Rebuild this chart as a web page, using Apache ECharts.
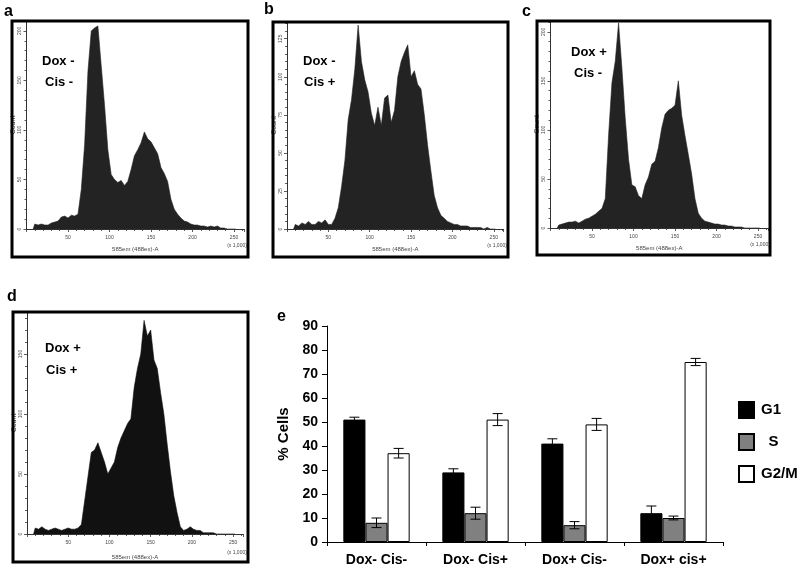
<!DOCTYPE html>
<html>
<head>
<meta charset="utf-8">
<script src="https://cdn.jsdelivr.net/npm/echarts@6/dist/echarts.min.js"></script>
<style>html,body{margin:0;padding:0;background:#fff;}#chart{width:800px;height:570px;}</style>
</head>
<body>
<div id="chart"></div>
<script>
// ---------- DATA ----------
// Histogram bins (x in thousands): centers start at 10, step 4 (61 bins)
const binStart = 10;
const binWidth = 4;
const histA = [5,4,5,4,4,6,7,8,12,13,11,14,13,
  15,40,85,159,200,203,205,165,125,80,55,50,47,
  49,44,48,60,74,80,87,98,91,88,82,76,62,
  56,48,30,20,15,11,8,7,5,4,4,3,3,
  2,3,2,3,1,1,0,0,0];
const histB = [3,2,4,3,5,3,3,5,4,6,3,3,7,
  14,28,45,72,85,105,134,110,98,90,76,68,80,
  68,86,88,70,78,100,110,116,121,100,104,95,92,
  75,55,38,22,14,9,7,5,4,3,3,2,2,
  2,1,1,1,1,0,1,0,0];
const histC = [3,4,5,6,6,7,5,7,9,10,12,14,17,
  20,30,95,148,170,209,163,112,70,44,42,33,30,
  44,52,65,68,82,102,116,120,122,125,150,115,94,
  75,55,30,15,10,7,6,5,4,4,3,3,2,
  2,1,1,1,0,0,0,0,0];
const histD = [5,4,6,4,3,4,5,4,3,4,5,4,4,
  5,8,28,48,68,70,76,68,60,50,55,60,72,
  80,86,92,96,122,138,150,178,165,170,145,138,118,
  100,75,52,32,18,6,3,4,6,4,3,3,1,
  1,1,1,0,0,0,0,0,0];
const histXTicks = [50,100,150,200,250];

const categories = ['Dox- Cis-','Dox- Cis+','Dox+ Cis-','Dox+ cis+'];
const seriesNames = ['G1','S','G2/M'];
const valG1 = [51,29,41,12];
const valS = [8,12,7,10];
const valG2M = [37,51,49,75];
const errG1 = [1,1.5,2,3];
const errS = [2,2.5,1.5,0.8];
const errG2M = [2,2.5,2.5,1.5];

// ---------- LAYOUT ----------
const FONT = 'Liberation Sans, Arial, Helvetica, sans-serif';
const panels = [
  {letter:'a', lx:4, ly:13, frame:[12,21,236,236], grid:{left:26.5,top:21,width:217.5,height:208}, ymax:210, yint:50, data:histA, t1:'Dox -', t2:'Cis -', tx:42, ty1:61, ty2:82, tx2:45, color:'#232323', nameGap:17, kx:237, ky:246},
  {letter:'b', lx:264, ly:11, frame:[273,22,235,235], grid:{left:287,top:22,width:216.7,height:207}, ymax:136, yint:25, data:histB, t1:'Dox -', t2:'Cis +', tx:303, ty1:61, ty2:82, tx2:304, color:'#232323', nameGap:17, kx:497, ky:246},
  {letter:'c', lx:522, ly:13, frame:[537,21,233,234], grid:{left:550.5,top:21,width:217.5,height:207}, ymax:211, yint:50, data:histC, t1:'Dox +', t2:'Cis -', tx:571, ty1:52, ty2:73, tx2:574, color:'#232323', nameGap:17, kx:760, ky:245},
  {letter:'d', lx:7, ly:298, frame:[13,312,235,250], grid:{left:27,top:312,width:216,height:222}, ymax:185, yint:50, data:histD, t1:'Dox +', t2:'Cis +', tx:45, ty1:348, ty2:370, tx2:46, color:'#111111', nameGap:20, kx:237, ky:553}
];

const grids = [], xAxes = [], yAxes = [], series = [], graphics = [];

panels.forEach((p, gi) => {
  grids.push(Object.assign({containLabel:false}, p.grid));
  xAxes.push({
    gridIndex: gi, type:'value', min:0, max:262, interval:50,
    axisLine:{show:true, lineStyle:{color:'#333', width:1}},
    axisTick:{show:true, length:3, lineStyle:{color:'#333', width:0.8}},
    minorTick:{show:true, splitNumber:5, length:2, lineStyle:{color:'#333', width:0.8}},
    splitLine:{show:false},
    axisLabel:{fontSize:5, color:'#444', margin:6, fontFamily:FONT,
      formatter: v => histXTicks.indexOf(v) >= 0 ? String(v) : ''},
    name:'585em (488ex)-A', nameLocation:'middle', nameGap:p.nameGap,
    nameTextStyle:{fontSize:6, color:'#444', fontFamily:FONT}
  });
  yAxes.push({
    gridIndex: gi, type:'value', min:0, max:p.ymax, interval:p.yint,
    axisLine:{show:true, lineStyle:{color:'#333', width:1}},
    axisTick:{show:true, length:3, lineStyle:{color:'#333', width:0.8}},
    minorTick:{show:true, splitNumber:5, length:2, lineStyle:{color:'#333', width:0.8}},
    splitLine:{show:false},
    axisLabel:{fontSize:5, color:'#444', rotate:90, margin:4, fontFamily:FONT,
      formatter: v => (v % p.yint === 0) ? String(v) : ''},
    name:'Count', nameLocation:'middle', nameGap:9, nameRotate:90,
    nameTextStyle:{fontSize:7, color:'#444', fontFamily:FONT}
  });
  const pts = [[binStart - binWidth/2, 0]];
  p.data.forEach((c, i) => pts.push([binStart + i*binWidth, c]));
  pts.push([binStart + (p.data.length-1)*binWidth + binWidth/2, 0]);
  series.push({
    type:'line', xAxisIndex:gi, yAxisIndex:gi, data:pts, symbol:'none', silent:true,
    lineStyle:{color:p.color, width:0.6}, areaStyle:{color:p.color, opacity:1}, animation:false
  });
  graphics.push({type:'rect', shape:{x:p.frame[0], y:p.frame[1], width:p.frame[2], height:p.frame[3]},
    style:{fill:null, stroke:'#000', lineWidth:3}, z:100});
  graphics.push({type:'text', left:p.lx, top:p.ly-9, style:{text:p.letter, font:'bold 16px '+FONT, fill:'#000'}});
  graphics.push({type:'text', x:p.tx, y:p.ty1, style:{text:p.t1, font:'bold 13px '+FONT, fill:'#000', textVerticalAlign:'middle'}, z:50});
  graphics.push({type:'text', x:p.tx2, y:p.ty2, style:{text:p.t2, font:'bold 13px '+FONT, fill:'#000', textVerticalAlign:'middle'}, z:50});
  graphics.push({type:'text', x:p.kx, y:p.ky, style:{text:'(x 1,000)', font:'5px '+FONT, fill:'#444', textAlign:'center', textVerticalAlign:'middle'}});
});

// panel e letter
graphics.push({type:'text', left:277, top:309, style:{text:'e', font:'bold 16px '+FONT, fill:'#000'}});

// ---------- BAR CHART ----------
const gE = panels.length;
grids.push({left:327, top:326, width:396, height:216, containLabel:false});
xAxes.push({
  gridIndex:gE, type:'category', data:categories,
  axisLine:{show:true, lineStyle:{color:'#000', width:1}},
  axisTick:{show:true, alignWithLabel:false, length:4, lineStyle:{color:'#000'}},
  axisLabel:{fontSize:14, fontWeight:'bold', color:'#000', margin:11, fontFamily:FONT},
  splitLine:{show:false}
});
yAxes.push({
  gridIndex:gE, type:'value', min:0, max:90, interval:10,
  axisLine:{show:true, lineStyle:{color:'#000', width:1}},
  axisTick:{show:true, length:5, lineStyle:{color:'#000'}},
  axisLabel:{fontSize:14, fontWeight:'bold', color:'#000', margin:9, fontFamily:FONT},
  splitLine:{show:false},
  name:'% Cells', nameLocation:'middle', nameGap:36, nameRotate:90,
  nameTextStyle:{fontSize:15, fontWeight:'bold', color:'#000', fontFamily:FONT}
});

const barVals = [valG1, valS, valG2M];
const barErrs = [errG1, errS, errG2M];
const barColors = ['#000000', '#808080', '#ffffff'];
barVals.forEach((vals, s) => {
  series.push({
    name:seriesNames[s], type:'bar', xAxisIndex:gE, yAxisIndex:gE, data:vals,
    barGap:'0%', barCategoryGap:'33%',
    itemStyle:{color:barColors[s], borderColor:'#000', borderWidth:1}, animation:false
  });
});
const BAR_GAP = 0.33;
barVals.forEach((vals, s) => {
  series.push({
    type:'custom', xAxisIndex:gE, yAxisIndex:gE, z:10, animation:false, silent:true,
    data: vals.map((v, i) => [i, v, barErrs[s][i], s]),
    renderItem: (params, api) => {
      const i = api.value(0), v = api.value(1), e = api.value(2), k = api.value(3);
      const band = api.size([1, 0])[0];
      const bw = band * (1 - BAR_GAP) / 3;
      const x = api.coord([i, v])[0] + (k - 1) * bw;
      const yT = api.coord([i, v + e])[1];
      const yB = api.coord([i, v - e])[1];
      const st = {stroke:'#000', lineWidth:1};
      return {type:'group', children:[
        {type:'line', shape:{x1:x, y1:yT, x2:x, y2:yB}, style:st},
        {type:'line', shape:{x1:x-5, y1:yT, x2:x+5, y2:yT}, style:st},
        {type:'line', shape:{x1:x-5, y1:yB, x2:x+5, y2:yB}, style:st}
      ]};
    }
  });
});

const chart = echarts.init(document.getElementById('chart'), null, {renderer:'canvas'});
chart.setOption({
  backgroundColor:'#fff',
  animation:false,
  grid:grids, xAxis:xAxes, yAxis:yAxes, series:series, graphic:graphics,
  legend:{
    data:seriesNames, orient:'vertical', left:733, top:396, itemWidth:15, itemHeight:16, itemGap:14,
    selectedMode:false, icon:'rect',
    textStyle:{fontSize:15, fontWeight:'bold', color:'#000', fontFamily:FONT, padding:[0,0,0,2]},
    formatter: n => n === 'S' ? '\u2002S' : n
  }
});
</script>
</body>
</html>
